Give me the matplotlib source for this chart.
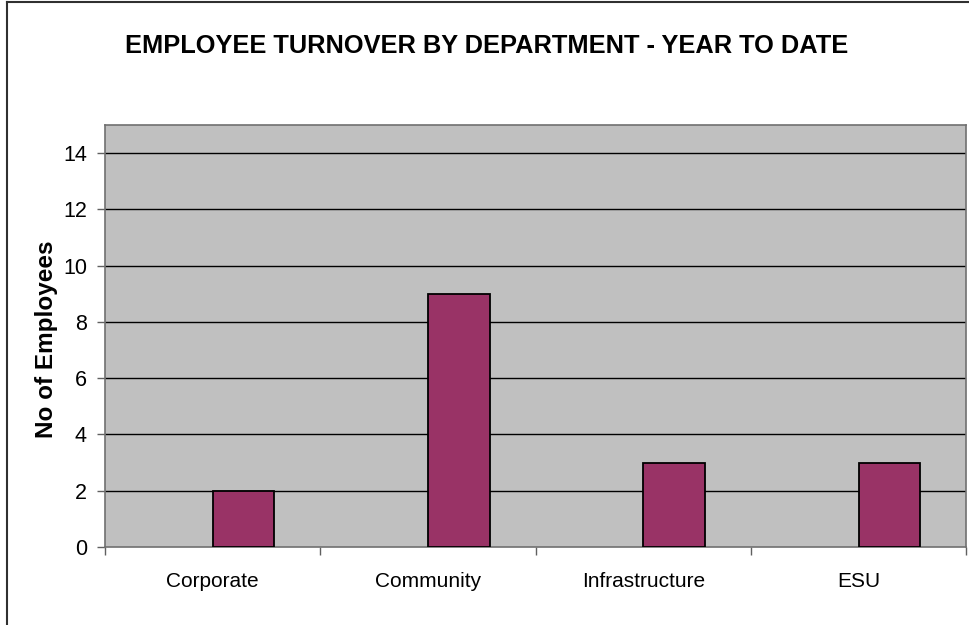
import matplotlib
matplotlib.use("Agg")
import matplotlib.pyplot as plt
from matplotlib.lines import Line2D
from matplotlib import font_manager

categories = ["Corporate", "Community", "Infrastructure", "ESU"]
employees = [2, 9, 3, 3]
y_ticks = [0, 2, 4, 6, 8, 10, 12, 14]

plt.rcParams['font.family'] = ['Liberation Sans', 'DejaVu Sans']

installed = {f.name for f in font_manager.fontManager.ttflist}
narrow = 'Liberation Sans Narrow' in installed

fig = plt.figure(figsize=(9.7, 6.25), dpi=100)
fig.patch.set_facecolor('white')
ax = fig.add_axes([105/970, 1-547/625, (966.5-105)/970, (547-125)/625])
ax.set_facecolor('#C0C0C0')

x = list(range(len(categories)))
bar_w = 1/3.5
ax.bar(x, employees, width=bar_w, align='edge', color='#993366',
       edgecolor='black', linewidth=1.3, zorder=3)

ax.set_xlim(-0.5, len(categories) - 0.5)
ax.set_ylim(0, 15)
ax.set_yticks(y_ticks)
ax.set_yticklabels([str(v) for v in y_ticks], fontsize=15.5)
for v in y_ticks[1:]:
    ax.axhline(v, color='black', linewidth=1, zorder=1)

ax.set_xticks([i - 0.5 for i in range(len(categories) + 1)])
ax.set_xticklabels([])
ax.set_xticks(x, minor=True)
ax.set_xticklabels(categories, minor=True, fontsize=15)
ax.tick_params(axis='x', which='major', direction='out', length=6, color='#606060', width=1)
ax.tick_params(axis='x', which='minor', length=0, pad=18)
ax.tick_params(axis='y', direction='out', length=6, color='#606060', width=1, pad=7)

for s in ax.spines.values():
    s.set_color('#707070')
    s.set_linewidth(1.2)

fig.text(53/970, 1-339/625, "No of Employees", rotation=90, rotation_mode='anchor',
         ha='center', va='baseline', fontsize=17.5, fontweight='bold')

if narrow:
    fig.text(487/970, 1-53/625, "EMPLOYEE TURNOVER BY DEPARTMENT - YEAR TO DATE",
             ha='center', va='baseline', fontsize=22, fontweight='bold',
             family=['Liberation Sans Narrow', 'Liberation Sans'])
else:
    fig.text(487/970, 1-53/625, "EMPLOYEE TURNOVER BY DEPARTMENT - YEAR TO DATE",
             ha='center', va='baseline', fontsize=18.3, fontweight='bold')

# outer chart border (top and left visible)
fig.add_artist(Line2D([7.5/970, 1], [1-1.5/625, 1-1.5/625], transform=fig.transFigure,
                      color='#303030', linewidth=1.5))
fig.add_artist(Line2D([7.5/970, 7.5/970], [0, 1-1.5/625], transform=fig.transFigure,
                      color='#303030', linewidth=1.5))

fig.savefig("out.png", dpi=100)
